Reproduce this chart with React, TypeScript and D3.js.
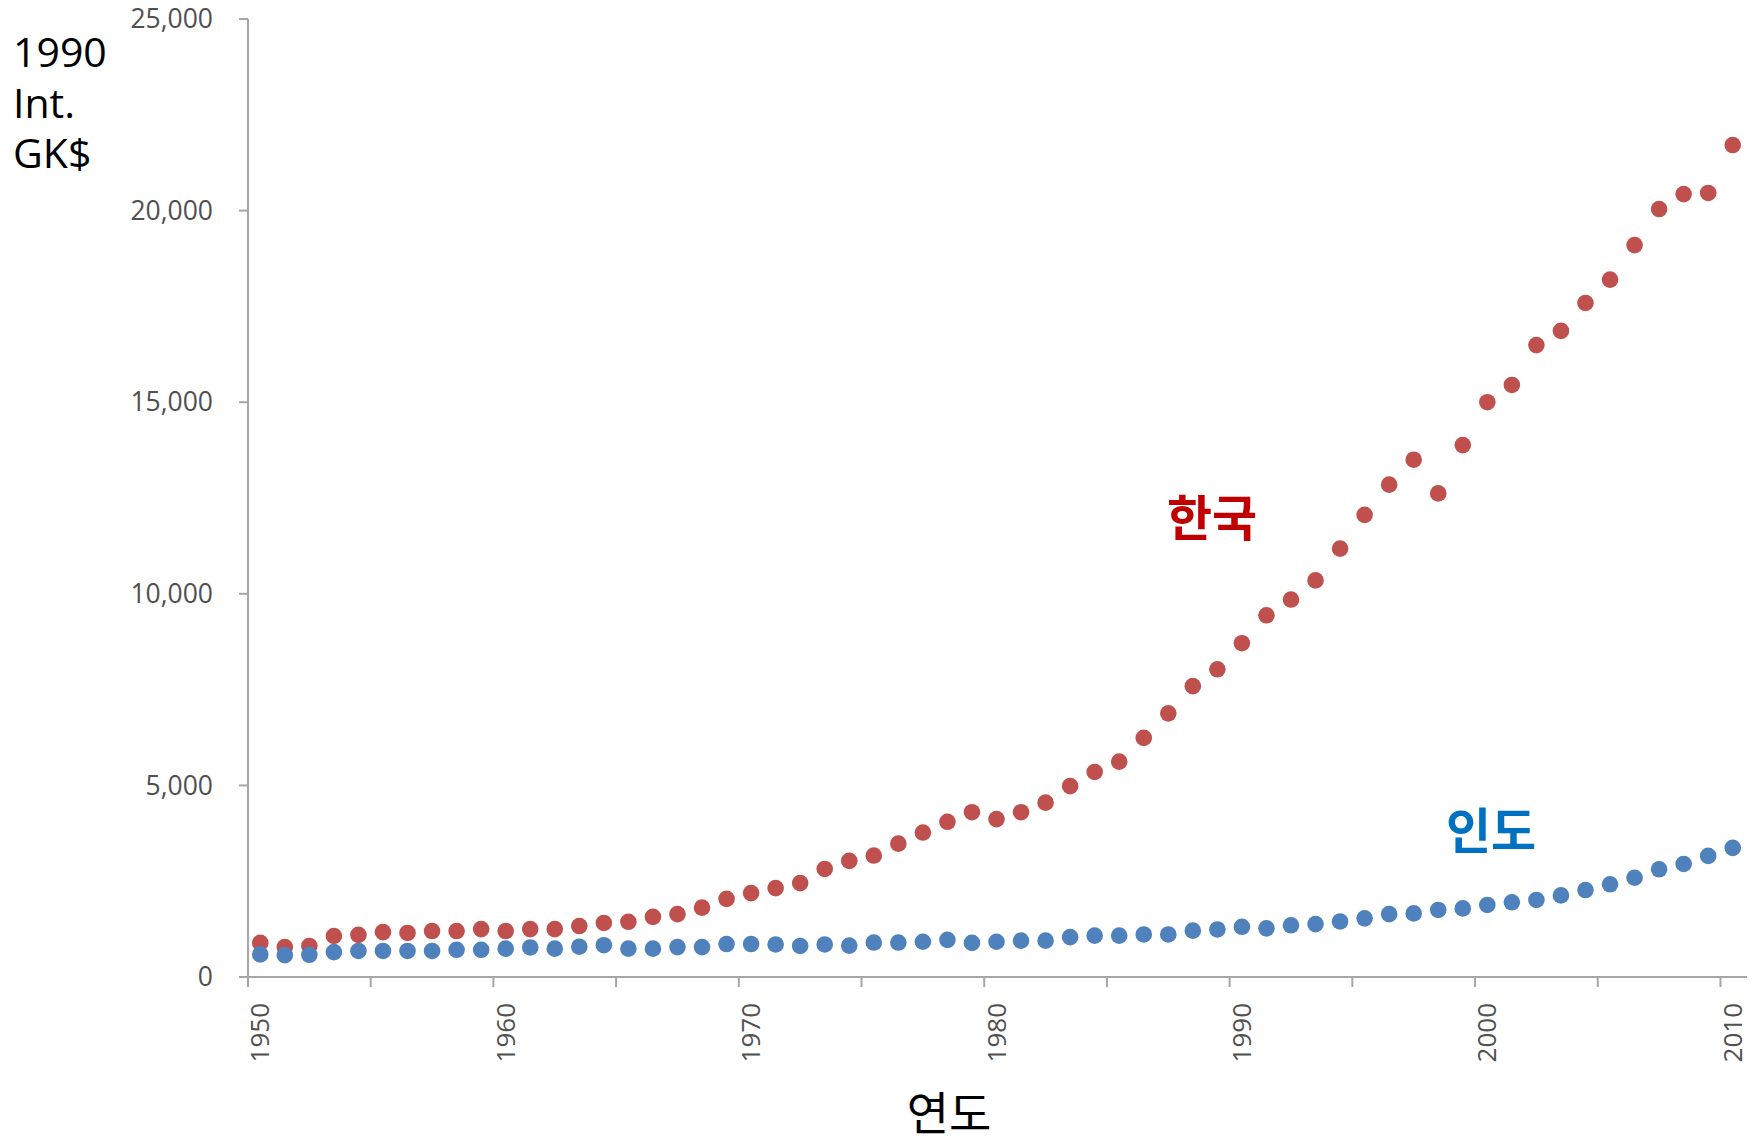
import React from 'react'
import * as d3 from 'd3'

// 1인당 GDP (1990 Int. GK$), 한국 vs 인도
const years = [
  1950, 1951, 1952, 1953, 1954, 1955, 1956, 1957, 1958, 1959,
  1960, 1961, 1962, 1963, 1964, 1965, 1966, 1967, 1968, 1969,
  1970, 1971, 1972, 1973, 1974, 1975, 1976, 1977, 1978, 1979,
  1980, 1981, 1982, 1983, 1984, 1985, 1986, 1987, 1988, 1989,
  1990, 1991, 1992, 1993, 1994, 1995, 1996, 1997, 1998, 1999,
  2000, 2001, 2002, 2003, 2004, 2005, 2006, 2007, 2008, 2009,
  2010,
]

const korea = [
  890, 780, 810, 1070, 1100, 1170, 1150, 1200, 1200, 1250,
  1200, 1250, 1250, 1330, 1410, 1440, 1570, 1640, 1810, 2040,
  2190, 2320, 2450, 2820, 3030, 3170, 3480, 3770, 4050, 4300,
  4120, 4300, 4550, 4980, 5350, 5620, 6240, 6880, 7590, 8030,
  8710, 9440, 9850, 10350, 11180, 12060, 12850, 13500, 12620, 13880,
  15000, 15450, 16490, 16860, 17590, 18200, 19100, 20040, 20430, 20460,
  21710,
]

const india = [
  590, 570, 580, 650, 680, 680, 680, 680, 710, 710,
  740, 770, 740, 790, 830, 740, 740, 780, 780, 860,
  860, 850, 810, 850, 820, 900, 900, 920, 970, 890,
  920, 950, 950, 1040, 1080, 1080, 1110, 1110, 1210, 1240,
  1310, 1270, 1350, 1380, 1450, 1530, 1640, 1660, 1750, 1790,
  1880, 1950, 2010, 2130, 2270, 2420, 2590, 2810, 2950, 3160,
  3370,
]

const yTicks = [0, 5000, 10000, 15000, 20000, 25000]
const xLabelYears = [1950, 1960, 1970, 1980, 1990, 2000, 2010]
const yTitleLines = ['1990', 'Int.', 'GK$']

const W = 1764
const H = 1142
const latin = '"Open Sans", "Noto Sans", sans-serif'
const kr = '"Noto Sans CJK KR", sans-serif'
const axisColor = '#a6a6a6'
const tickText = '#505050'

const App = () => {
  const x = d3.scaleBand<number>().domain(years).range([248, 1745]).padding(0)
  const y = d3.scaleLinear().domain([0, 25000]).range([977, 19])
  const fmt = d3.format(',')
  const half = x.bandwidth() / 2
  const tickYears = years.filter((d, i) => i % 5 === 0)

  return (
    <svg width={W} height={H} style={{ position: 'absolute', left: 0, top: 0, background: '#fff' }}>
      {/* y axis */}
      <line x1={248} x2={248} y1={y(25000)} y2={y(0)} stroke={axisColor} strokeWidth={2} />
      {yTicks.map((t) => (
        <g key={t}>
          <line x1={239} x2={248} y1={y(t)} y2={y(t)} stroke={axisColor} strokeWidth={2} />
          <text x={213} y={y(t)} dy="0.35em" textAnchor="end" fontFamily={latin} fontSize={26.5} fill={tickText}>
            {fmt(t)}
          </text>
        </g>
      ))}

      {/* x axis */}
      <line x1={239} x2={1747} y1={y(0)} y2={y(0)} stroke={axisColor} strokeWidth={2} />
      {tickYears.map((t) => (
        <line key={t} x1={x(t)!} x2={x(t)!} y1={y(0)} y2={y(0) + 10} stroke={axisColor} strokeWidth={2} />
      ))}
      {xLabelYears.map((t) => (
        <text
          key={t}
          transform={`translate(${x(t)! + half},1003) rotate(-90)`}
          dy="0.35em"
          textAnchor="end"
          fontFamily={latin}
          fontSize={26}
          fill={tickText}
        >
          {t}
        </text>
      ))}

      {/* points */}
      {korea.map((v, i) => (
        <circle key={'k' + i} cx={x(years[i])! + half} cy={y(v)} r={8.3} fill="#c0504d" />
      ))}
      {india.map((v, i) => (
        <circle key={'i' + i} cx={x(years[i])! + half} cy={y(v)} r={8.3} fill="#4f81bd" />
      ))}

      {/* labels */}
      <text x={1212} y={536} textAnchor="middle" fontFamily={kr} fontWeight={700} fontSize={49} fill="#c00000">
        한국
      </text>
      <text x={1491} y={849} textAnchor="middle" fontFamily={kr} fontWeight={700} fontSize={49} fill="#0070c0">
        인도
      </text>

      {/* axis titles */}
      {yTitleLines.map((s, i) => (
        <text key={s} x={13} y={67 + i * 50.5} fontFamily={latin} fontSize={41} fill="#000">
          {s}
        </text>
      ))}
      <text x={949} y={1130} textAnchor="middle" fontFamily={kr} fontSize={46} fill="#000">
        연도
      </text>
    </svg>
  )
}

export default App
